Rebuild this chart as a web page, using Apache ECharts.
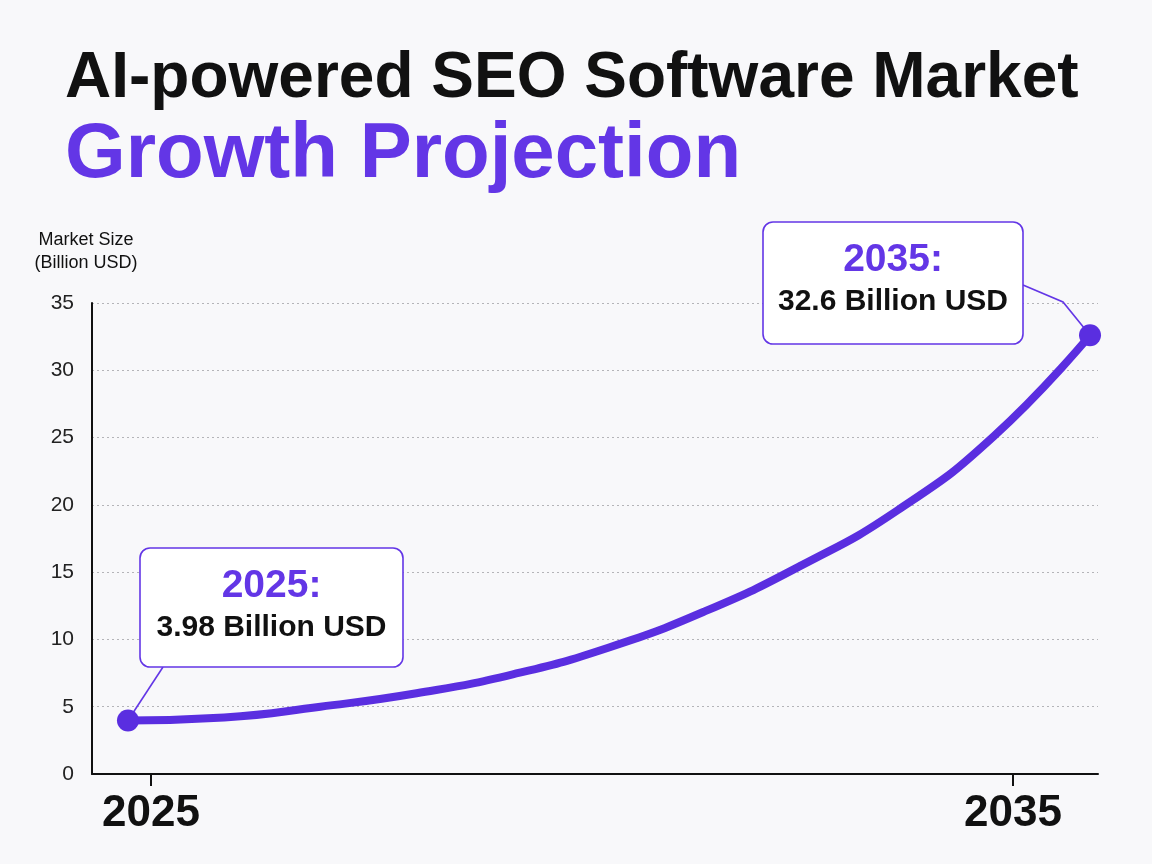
<!DOCTYPE html>
<html>
<head>
<meta charset="utf-8">
<title>AI-powered SEO Software Market Growth Projection</title>
<script src="https://cdn.jsdelivr.net/npm/echarts@6/dist/echarts.min.js"></script>
<style>
  html, body { margin: 0; padding: 0; background: #f8f8fa; }
  #chart { width: 1152px; height: 864px; }
</style>
</head>
<body>
<div id="chart"></div>
<script>
// data
const years = [2025, 2026, 2027, 2028, 2029, 2030, 2031, 2032, 2033, 2034, 2035];
const marketSize = [3.98, 4.2, 5.0, 6.0, 7.4, 9.4, 12.1, 15.5, 19.6, 25.1, 32.6];
const yearTicks = [2025, 2035];
const callouts = ["3.98 Billion USD", "32.6 Billion USD"];

const PURPLE = "#6336e6";
const LINE = "#5a2ee0";
const FONT = "'Liberation Sans', Arial, sans-serif";

const chart = echarts.init(document.getElementById("chart"));

// end points get a dot, the rest of the curve has none
const lastIdx = years.length - 1;
const seriesData = years.map((y, i) => {
    const item = { value: [y, marketSize[i]] };
    if (i === 0 || i === lastIdx) {
        item.symbol = "circle";
        item.symbolSize = 22;
    }
    return item;
});

chart.setOption({
    backgroundColor: "#f8f8fa",
    title: [
        {
            text: "AI-powered SEO Software Market",
            left: 60,
            top: 42,
            textStyle: { fontFamily: FONT, fontSize: 64, fontWeight: "bold", color: "#111" },
        },
        {
            text: "Growth Projection",
            left: 60,
            top: 111,
            textStyle: { fontFamily: FONT, fontSize: 78, fontWeight: "bold", color: PURPLE },
        },
    ],
    grid: { left: 92, right: 54, top: 303, bottom: 90 },
    xAxis: [
        // axis used by the curve
        { type: "value", min: 2024.626, max: 2035.083, show: false },
        // axis that shows the year ticks
        {
            type: "value",
            position: "bottom",
            min: 2024.316,
            max: 2035.986,
            axisLine: { show: true, lineStyle: { color: "#111", width: 2 } },
            axisTick: { show: true, customValues: yearTicks, length: 12, lineStyle: { color: "#111", width: 2 } },
            axisLabel: {
                customValues: yearTicks,
                formatter: (v) => String(v),
                fontFamily: FONT,
                fontSize: 44,
                fontWeight: "bold",
                color: "#111",
                margin: 18,
            },
            splitLine: { show: false },
        },
    ],
    yAxis: {
        type: "value",
        min: 0,
        max: 35,
        interval: 5,
        name: "Market Size\n(Billion USD)",
        nameLocation: "end",
        nameGap: 28,
        nameTextStyle: {
            fontFamily: FONT,
            fontSize: 18,
            color: "#111",
            lineHeight: 23,
            align: "center",
            padding: [0, 12, 0, 0],
        },
        axisLine: { show: true, lineStyle: { color: "#111", width: 2 } },
        axisTick: { show: false },
        axisLabel: { fontFamily: FONT, fontSize: 21, color: "#222", margin: 18 },
        splitLine: { lineStyle: { type: [2, 3], color: "#b4b4b8", width: 1 } },
    },
    series: [
        {
            type: "line",
            xAxisIndex: 0,
            data: seriesData,
            smooth: true,
            symbol: "none",
            showSymbol: true,
            lineStyle: { color: LINE, width: 8, cap: "round" },
            itemStyle: { color: LINE },
            z: 2,
        },
    ],
});

// call-out boxes with leader lines to the end points
const p0 = chart.convertToPixel({ seriesIndex: 0 }, [years[0], marketSize[0]]);
const p1 = chart.convertToPixel({ seriesIndex: 0 }, [years[lastIdx], marketSize[lastIdx]]);

const box = (x, y, w, h, head, body) => [
    {
        type: "rect",
        z: 5,
        shape: { x: x, y: y, width: w, height: h, r: 10 },
        style: { fill: "#ffffff", stroke: PURPLE, lineWidth: 1.6 },
    },
    {
        type: "text",
        z: 6,
        x: x + w / 2,
        y: y + 38,
        style: {
            text: head,
            font: "bold 39px " + FONT,
            fill: PURPLE,
            align: "center",
            verticalAlign: "middle",
            textAlign: "center",
            textVerticalAlign: "middle",
        },
    },
    {
        type: "text",
        z: 6,
        x: x + w / 2,
        y: y + 80,
        style: {
            text: body,
            font: "bold 30px " + FONT,
            fill: "#111",
            align: "center",
            verticalAlign: "middle",
            textAlign: "center",
            textVerticalAlign: "middle",
        },
    },
];

chart.setOption({
    graphic: [
        {
            type: "polyline",
            z: 1,
            shape: { points: [[163, 667], p0] },
            style: { stroke: PURPLE, lineWidth: 1.6, fill: null },
        },
        {
            type: "polyline",
            z: 1,
            shape: { points: [[1023, 285], [1063, 302], p1] },
            style: { stroke: PURPLE, lineWidth: 1.6, fill: null },
        },
        ...box(140, 548, 263, 119, years[0] + ":", callouts[0]),
        ...box(763, 222, 260, 122, years[lastIdx] + ":", callouts[1]),
    ],
});
</script>
</body>
</html>
